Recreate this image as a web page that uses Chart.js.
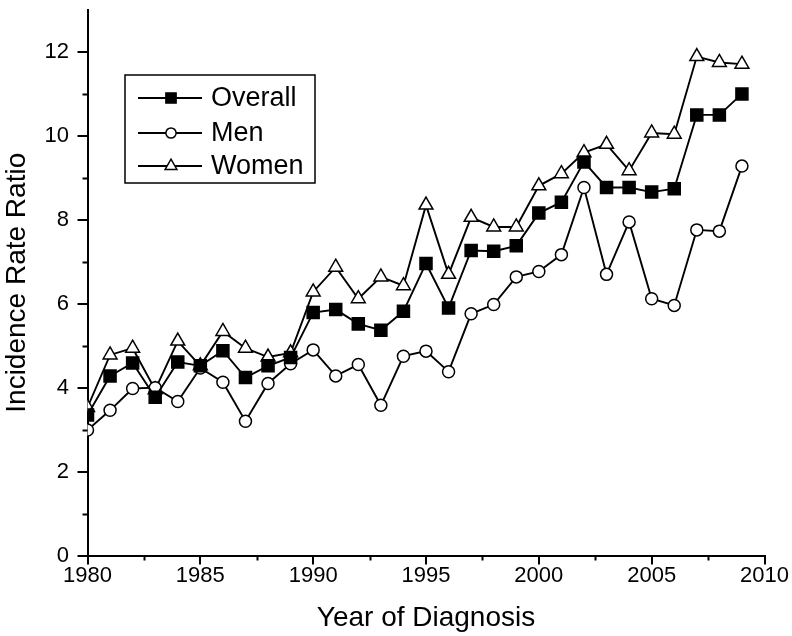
<!DOCTYPE html>
<html><head><meta charset="utf-8">
<script src="https://cdn.jsdelivr.net/npm/chart.js"></script>
<style>html,body{margin:0;padding:0;background:#fff}canvas{display:block}</style>
</head><body>
<canvas id="c" width="792" height="636"></canvas>
<script>
const years = [1980,1981,1982,1983,1984,1985,1986,1987,1988,1989,1990,1991,1992,1993,1994,1995,1996,1997,1998,1999,2000,2001,2002,2003,2004,2005,2006,2007,2008,2009];
const overall = [3.35,4.28,4.59,3.77,4.61,4.52,4.88,4.24,4.52,4.72,5.79,5.86,5.52,5.37,5.82,6.96,5.90,7.27,7.25,7.38,8.16,8.42,9.38,8.77,8.77,8.66,8.74,10.50,10.50,11.00];
const men = [2.99,3.46,3.98,4.00,3.67,4.47,4.13,3.20,4.10,4.57,4.90,4.28,4.55,3.58,4.75,4.87,4.38,5.76,5.98,6.64,6.77,7.17,8.77,6.70,7.95,6.12,5.96,7.76,7.73,9.28];
const women = [3.53,4.78,4.94,3.95,5.11,4.52,5.34,4.94,4.73,4.83,6.28,6.87,6.12,6.64,6.43,8.35,6.70,8.06,7.83,7.83,8.81,9.10,9.60,9.80,9.17,10.07,10.04,11.89,11.75,11.71];
const seriesNames = ['Overall', 'Men', 'Women'];
const xTickValues = [1980,1985,1990,1995,2000,2005,2010];
const xMinorTickValues = [1982.5,1987.5,1992.5,1997.5,2002.5,2007.5];
const yTickValues = [0,2,4,6,8,10,12];
const yMinorTickValues = [1,3,5,7,9,11];
const xTitle = 'Year of Diagnosis';
const yTitle = 'Incidence Rate Ratio';

const FONT = "'Liberation Sans', Arial, sans-serif";
const toPoints = arr => years.map((yr, i) => ({x: yr, y: arr[i]}));

function drawMarker(ctx, style, x, y, r) {
  ctx.beginPath();
  if (style === 'rect') {
    const s = Math.SQRT1_2 * r;
    ctx.rect(x - s, y - s, 2 * s, 2 * s);
  } else if (style === 'triangle') {
    let a = 0;
    ctx.moveTo(x + Math.sin(a) * r, y - Math.cos(a) * r);
    a += 2 * Math.PI / 3;
    ctx.lineTo(x + Math.sin(a) * r, y - Math.cos(a) * r);
    a += 2 * Math.PI / 3;
    ctx.lineTo(x + Math.sin(a) * r, y - Math.cos(a) * r);
    ctx.closePath();
  } else {
    ctx.arc(x, y, r, 0, Math.PI * 2);
  }
  ctx.fill();
  ctx.stroke();
}

const minorTicks = {
  id: 'minorTicks',
  afterDraw(chart) {
    const {ctx, chartArea, scales: {x, y}} = chart;
    ctx.save();
    ctx.strokeStyle = '#000';
    ctx.lineWidth = 2;
    yMinorTickValues.forEach(v => {
      const py = Math.round(y.getPixelForValue(v)) + 0.5;
      ctx.beginPath(); ctx.moveTo(chartArea.left - 5, py); ctx.lineTo(chartArea.left, py); ctx.stroke();
    });
    xMinorTickValues.forEach(v => {
      const px = Math.round(x.getPixelForValue(v)) + 0.5;
      ctx.beginPath(); ctx.moveTo(px, chartArea.bottom); ctx.lineTo(px, chartArea.bottom + 5); ctx.stroke();
    });
    ctx.restore();
  }
};

const boxLegend = {
  id: 'boxLegend',
  afterDraw(chart) {
    const ctx = chart.ctx;
    ctx.save();
    ctx.strokeStyle = '#000';
    ctx.lineWidth = 1.5;
    ctx.strokeRect(125, 75, 190, 108);
    const rows = [98, 133, 166];
    chart.data.datasets.forEach((ds, i) => {
      const yy = rows[i];
      ctx.strokeStyle = ds.borderColor;
      ctx.lineWidth = ds.borderWidth;
      ctx.beginPath(); ctx.moveTo(138, yy); ctx.lineTo(202, yy); ctx.stroke();
      ctx.fillStyle = ds.pointBackgroundColor;
      ctx.lineWidth = ds.pointBorderWidth;
      drawMarker(ctx, ds.pointStyle, 171, yy, ds.pointRadius * 0.85);
      ctx.fillStyle = '#000';
      ctx.font = '27px ' + FONT;
      ctx.textBaseline = 'middle';
      ctx.textAlign = 'left';
      ctx.fillText(ds.label, 211, yy + 1);
    });
    ctx.restore();
  }
};

function mk(label, arr, style, fill, radius) {
  return {
    label, data: toPoints(arr),
    borderColor: '#000', borderWidth: 1.9,
    pointStyle: style, pointRadius: radius, pointHoverRadius: radius,
    pointBackgroundColor: fill, pointBorderColor: '#000', pointBorderWidth: 1.5,
    tension: 0, fill: false
  };
}

new Chart(document.getElementById('c'), {
  type: 'line',
  data: {
    datasets: [
      mk(seriesNames[0], overall, 'rect', '#000', 8.5),
      mk(seriesNames[1], men, 'circle', '#fff', 6),
      mk(seriesNames[2], women, 'triangle', '#fff', 8)
    ]
  },
  options: {
    responsive: false,
    devicePixelRatio: 1,
    animation: false,
    events: [],
    layout: {padding: {top: 1.5, right: 27.5, left: 0, bottom: 0}},
    plugins: {legend: {display: false}, tooltip: {enabled: false}},
    scales: {
      x: {
        type: 'linear', min: 1980, max: 2010, offset: false,
        afterBuildTicks: s => { s.ticks = xTickValues.map(v => ({value: v})); },
        afterFit: s => { s.height = 80.5; s.paddingLeft = 0; s.paddingRight = 0; },
        grid: {display: true, drawOnChartArea: false, drawTicks: true, tickLength: 9, color: '#000', lineWidth: 2},
        border: {display: true, color: '#000', width: 2},
        ticks: {autoSkip: false, maxRotation: 0, padding: -2, color: '#000', font: {family: FONT, size: 22}, callback: v => String(v)},
        title: {display: true, text: xTitle, color: '#000', font: {family: FONT, size: 28}, padding: {top: 0, bottom: 1}}
      },
      y: {
        type: 'linear', min: 0, max: 13,
        afterBuildTicks: s => { s.ticks = yTickValues.map(v => ({value: v})); },
        afterFit: s => { s.width = 87.5; s.paddingTop = 0; s.paddingBottom = 0; },
        grid: {display: true, drawOnChartArea: false, drawTicks: true, tickLength: 10, color: '#000', lineWidth: 2},
        border: {display: true, color: '#000', width: 2},
        ticks: {padding: 8.5, color: '#000', font: {family: FONT, size: 22}},
        title: {display: true, text: yTitle, color: '#000', font: {family: FONT, size: 28}, padding: {top: 0, bottom: 0}}
      }
    }
  },
  plugins: [minorTicks, boxLegend]
});
</script>
</body></html>
